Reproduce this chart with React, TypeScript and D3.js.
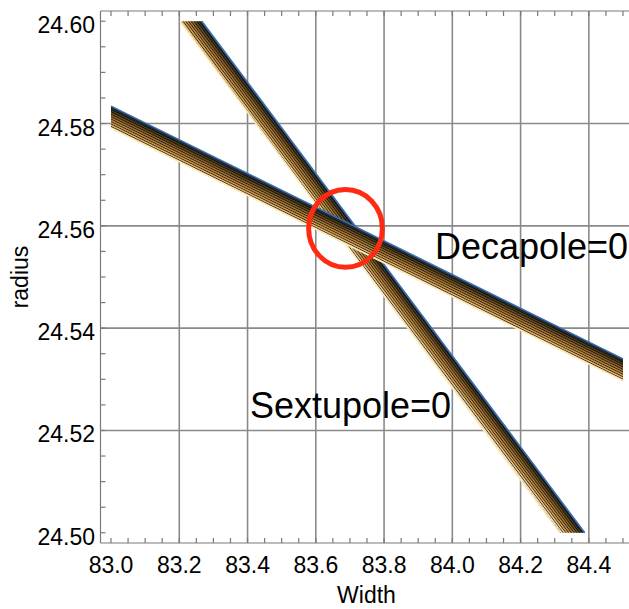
import * as d3 from "d3";

const W = 629;
const H = 609;

const xTicks = [83.0, 83.2, 83.4, 83.6, 83.8, 84.0, 84.2, 84.4];
const yTicks = [24.5, 24.52, 24.54, 24.56, 24.58, 24.6];
const xGrid = [83.2, 83.4, 83.6, 83.8, 84.0, 84.2, 84.4];
const yGrid = [24.52, 24.54, 24.56, 24.58];

// band edges in data units, blue side first, cream side second
const decapoleBlue: [number, number][] = [[83.0, 24.5834], [84.5, 24.534]];
const decapoleCream: [number, number][] = [[83.0, 24.5791], [84.5, 24.5297]];
const sextupoleBlue: [number, number][] = [[83.266, 24.6], [84.388, 24.5]];
const sextupoleCream: [number, number][] = [[83.202, 24.6], [84.315, 24.5]];

const crossing = { x: 83.687, y: 24.5595, rx: 0.108, ry: 0.0076 };

const labels = [
  { text: "Decapole=0", x: 83.949, y: 24.5535 },
  { text: "Sextupole=0", x: 83.407, y: 24.5225 },
];

const FONT = "'Liberation Sans', Arial, sans-serif";

const x = d3.scaleLinear().domain([82.9692, 84.5308]).range([100.5, 633.5]);
const y = d3.scaleLinear().domain([24.498, 24.602]).range([543, 11]);

function Band({ id, blue, cream }: { id: string; blue: [number, number][]; cream: [number, number][] }) {
  const a0 = [x(blue[0][0]), y(blue[0][1])];
  const a1 = [x(blue[1][0]), y(blue[1][1])];
  const b0 = [x(cream[0][0]), y(cream[0][1])];
  const b1 = [x(cream[1][0]), y(cream[1][1])];
  const dx = a1[0] - a0[0];
  const dy = a1[1] - a0[1];
  const len = Math.hypot(dx, dy);
  const n = [-dy / len, dx / len];
  const t = (b0[0] - a0[0]) * n[0] + (b0[1] - a0[1]) * n[1];
  const angle = (Math.atan2(dy, dx) * 180) / Math.PI;
  const poly = [a0, a1, b1, b0].map((p) => p.join(",")).join(" ");

  return (
    <g>
      <defs>
        <linearGradient
          id={`${id}-grad`}
          gradientUnits="userSpaceOnUse"
          x1={a0[0]} y1={a0[1]}
          x2={a0[0] + t * n[0]} y2={a0[1] + t * n[1]}
        >
          <stop offset="0" stopColor="#3a6eae" />
          <stop offset="0.06" stopColor="#22303e" />
          <stop offset="0.2" stopColor="#4c3a1a" />
          <stop offset="0.5" stopColor="#a67634" />
          <stop offset="0.8" stopColor="#dea452" />
          <stop offset="0.94" stopColor="#f6d494" />
          <stop offset="1" stopColor="#fff0cc" />
        </linearGradient>
        <pattern
          id={`${id}-stripes`}
          patternUnits="userSpaceOnUse"
          width={20}
          height={2.2}
          patternTransform={`rotate(${angle})`}
        >
          <rect width={20} height={0.9} fill="#000" opacity={0.75} />
        </pattern>
      </defs>
      <polygon points={poly} fill={`url(#${id}-grad)`} />
      <polygon points={poly} fill={`url(#${id}-stripes)`} />
      <line x1={a0[0]} y1={a0[1]} x2={a1[0]} y2={a1[1]} stroke="#3a6eb0" strokeWidth={1.6} />
      <line x1={b0[0]} y1={b0[1]} x2={b1[0]} y2={b1[1]} stroke="#ffe8b8" strokeWidth={1.6} />
    </g>
  );
}

export default function App() {
  const [x0, x1] = x.range();
  const [y0, y1] = y.range();
  const minorX = x.ticks(30).filter((v) => v >= 82.99);
  const minorY = y.ticks(20);
  const gray = "#8a8a8a";

  return (
    <svg
      width={W}
      height={H}
      style={{ position: "absolute", left: 0, top: 0, background: "#fff" }}
      fontFamily={FONT}
    >
      {xGrid.map((v) => (
        <line key={`gx${v}`} x1={x(v)} x2={x(v)} y1={y1} y2={y0} stroke={gray} strokeWidth={1.6} />
      ))}
      {yGrid.map((v) => (
        <line key={`gy${v}`} x1={x0} x2={x1} y1={y(v)} y2={y(v)} stroke={gray} strokeWidth={1.6} />
      ))}

      <Band id="sext" blue={sextupoleBlue} cream={sextupoleCream} />
      <Band id="deca" blue={decapoleBlue} cream={decapoleCream} />

      <ellipse
        cx={x(crossing.x)}
        cy={y(crossing.y)}
        rx={x(crossing.x + crossing.rx) - x(crossing.x)}
        ry={y(crossing.y) - y(crossing.y + crossing.ry)}
        fill="none"
        stroke="#ff2a12"
        strokeWidth={5}
      />

      {/* frame */}
      <g stroke="#7a7a7a" strokeWidth={1.2} fill="none">
        <line x1={x0} x2={x0} y1={y1} y2={y0} />
        <line x1={x0} x2={x1} y1={y0} y2={y0} />
        <line x1={x0} x2={x1} y1={y1} y2={y1} />
        {minorX.map((v) => (
          <g key={`tx${v}`}>
            <line x1={x(v)} x2={x(v)} y1={y0} y2={y0 - 5} />
            <line x1={x(v)} x2={x(v)} y1={y1} y2={y1 + 5} />
          </g>
        ))}
        {minorY.map((v) => (
          <line key={`ty${v}`} x1={x0} x2={x0 + 5} y1={y(v)} y2={y(v)} />
        ))}
      </g>

      <g fontSize={23} fill="#000">
        {xTicks.map((v) => (
          <text key={`lx${v}`} x={x(v)} y={573} textAnchor="middle">
            {v.toFixed(1)}
          </text>
        ))}
        {yTicks.map((v) => (
          <text key={`ly${v}`} x={95} y={y(v) + 12} textAnchor="end">
            {v.toFixed(2)}
          </text>
        ))}
        <text x={(x0 + x1) / 2 - 0.5} y={603} textAnchor="middle">Width</text>
        <text transform={`translate(28, ${(y0 + y1) / 2}) rotate(-90)`} textAnchor="middle">radius</text>
      </g>

      {labels.map((l) => (
        <text key={l.text} x={x(l.x)} y={y(l.y)} fontSize={36} fill="#000">
          {l.text}
        </text>
      ))}
    </svg>
  );
}
